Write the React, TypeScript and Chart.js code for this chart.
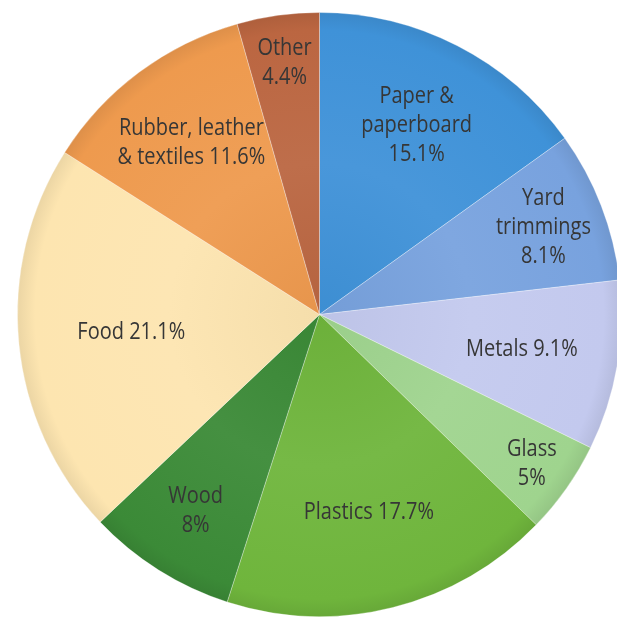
import React, { useEffect, useRef } from "react";
import { Chart, registerables } from "chart.js";

Chart.register(...registerables);

const categories = [
  "Paper & paperboard",
  "Yard trimmings",
  "Metals",
  "Glass",
  "Plastics",
  "Wood",
  "Food",
  "Rubber, leather & textiles",
  "Other",
];
const shares = [15.1, 8.1, 9.1, 5, 17.7, 8, 21.1, 11.6, 4.4];
const labelLines = [
  ["Paper &", "paperboard", "15.1%"],
  ["Yard", "trimmings", "8.1%"],
  ["Metals 9.1%"],
  ["Glass", "5%"],
  ["Plastics 17.7%"],
  ["Wood", "8%"],
  ["Food 21.1%"],
  ["Rubber, leather", "& textiles 11.6%"],
  ["Other", "4.4%"],
];
const sliceColors = [
  "#3f92d8",
  "#78a2de",
  "#c3c9ee",
  "#9fd48e",
  "#6fb53c",
  "#3b8a37",
  "#fde5b0",
  "#ee9a4e",
  "#bb6641",
];
const labelRadius = [0.705, 0.795, 0.68, 0.86, 0.675, 0.77, 0.626, 0.71, 0.84];

function shade(hex: string, f: number): string {
  const n = parseInt(hex.slice(1), 16);
  let r = (n >> 16) & 255, g = (n >> 8) & 255, b = n & 255;
  if (f >= 0) {
    r = r + (255 - r) * f; g = g + (255 - g) * f; b = b + (255 - b) * f;
  } else {
    r = r * (1 + f); g = g * (1 + f); b = b * (1 + f);
  }
  return `rgb(${Math.round(r)},${Math.round(g)},${Math.round(b)})`;
}

const labelPlugin = {
  id: "sliceLabels",
  afterDatasetsDraw(chart: any) {
    const meta = chart.getDatasetMeta(0);
    const ctx = chart.ctx;
    const lh = 29;
    const stretch = 1.14;
    meta.data.forEach((arc: any, i: number) => {
      const p = arc.getProps(["x", "y", "startAngle", "endAngle", "outerRadius"], true);
      const mid = (p.startAngle + p.endAngle) / 2;
      const r = p.outerRadius * labelRadius[i];
      const cx = p.x + Math.cos(mid) * r;
      const cy = p.y + Math.sin(mid) * r;
      const lines = labelLines[i];
      lines.forEach((t, k) => {
        const y = cy + (k - (lines.length - 1) / 2) * lh;
        ctx.save();
        ctx.translate(cx, y);
        ctx.scale(1, stretch);
        ctx.font = '500 20px "Open Sans"';
        ctx.fillStyle = "#363636";
        ctx.textAlign = "center";
        ctx.textBaseline = "middle";
        ctx.fillText(t, 0, 0);
        ctx.restore();
      });
    });
  },
};

export default function App() {
  const ref = useRef<HTMLCanvasElement | null>(null);
  useEffect(() => {
    if (!ref.current) return;
    const chart = new Chart(ref.current, {
      type: "pie",
      data: {
        labels: categories,
        datasets: [
          {
            data: shares,
            backgroundColor: (c: any) => {
              const base = sliceColors[c.dataIndex % sliceColors.length];
              const ca = c.chart.chartArea;
              if (!ca) return base;
              const cx = (ca.left + ca.right) / 2;
              const cy = (ca.top + ca.bottom) / 2;
              const rad = Math.min(ca.right - ca.left, ca.bottom - ca.top) / 2;
              const g = c.chart.ctx.createRadialGradient(cx, cy, 0, cx, cy, rad);
              g.addColorStop(0, shade(base, -0.03));
              g.addColorStop(0.5, shade(base, 0.05));
              g.addColorStop(0.94, base);
              g.addColorStop(1, shade(base, -0.07));
              return g;
            },
            borderColor: "rgba(255,255,255,0.3)",
            borderWidth: 1,
          },
        ],
      },
      options: {
        responsive: false,
        animation: false,
        layout: { padding: { left: 17, right: 18, top: 11, bottom: 12 } },
        plugins: {
          legend: { display: false },
          tooltip: { enabled: false },
        },
      },
      plugins: [labelPlugin],
    });
    return () => chart.destroy();
  }, []);
  return (
    <div
      style={{
        position: "fixed",
        left: 0,
        top: 0,
        width: 617,
        height: 624,
        overflow: "hidden",
        background: "#ffffff",
      }}
    >
      <canvas ref={ref} width={640} height={630} style={{ display: "block" }} />
    </div>
  );
}
